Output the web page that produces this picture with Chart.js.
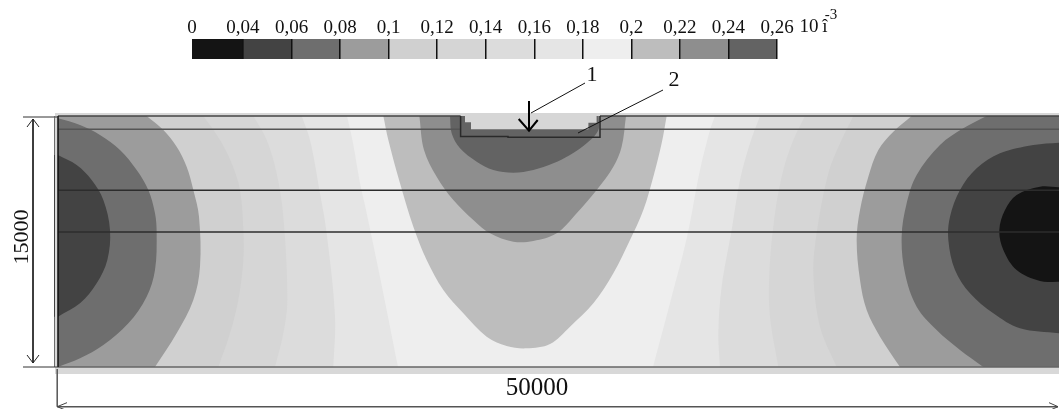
<!DOCTYPE html>
<html>
<head>
<meta charset="utf-8">
<title>Contour map</title>
<script src="https://cdn.jsdelivr.net/npm/chart.js@4"></script>
<style>
  html, body { margin: 0; padding: 0; background: #fff; overflow: hidden; }
  #field-chart { position: absolute; left: 0; top: 0; }
  #scale-chart { position: absolute; left: 150px; top: 0; }
</style>
</head>
<body>
<canvas id="field-chart" width="1059" height="409"></canvas>
<canvas id="scale-chart" width="680" height="59"></canvas>
<script>
// Colour scale
const legendLabels = ['0', '0,04', '0,06', '0,08', '0,1', '0,12', '0,14', '0,16', '0,18', '0,2', '0,22', '0,24', '0,26'];
const legendLevels = [0.019, 0.04, 0.06, 0.08, 0.1, 0.12, 0.14, 0.16, 0.18, 0.2, 0.22, 0.24, 0.26];
const legendGreys = ['#141414', '#434343', '#6e6e6e', '#9c9c9c', '#d0d0d0', '#d5d5d5', '#dcdcdc', '#e5e5e5', '#eeeeee', '#bdbdbd', '#8e8e8e', '#636363'];

// Contours on the left side, [x, depth]
const left04 = [[0,12720],[933,12120],[1683,11220],[2267,10020],[2600,8220],[2467,6420],[1933,5020],[1100,3820],[0,3020]];
const left06 = [[0,14920],[1100,14520],[2100,13920],[3100,13020],[3933,11820],[4517,10620],[4850,9220],[4933,8020],[4850,5820],[4433,4220],[3517,2620],[2267,1320],[1100,520],[0,0]];
const left08 = [[4433,15060],[5267,14220],[5933,13220],[6433,12020],[6767,10620],[7050,9020],[7100,6020],[6767,4020],[5933,2020],[4850,0]];
const left10 = [[7267,15060],[8100,13620],[8683,12220],[9100,10620],[9267,8220],[9267,6420],[9017,4020],[8600,2020],[8017,0]];
const left12 = [[9767,15060],[10433,13620],[10933,11620],[11267,9020],[11467,4020],[11267,2020],[10850,0]];
const left14 = [[12183,15060],[12600,13620],[13100,10420],[13433,8020],[13850,3020],[13767,0]];
const left16 = [[14450,15060],[14750,13440],[15100,11040],[15400,9420],[16100,5400],[17000,0]];

// Contours on the right side
const right16 = [[32850,15060],[32600,14220],[32100,11820],[31450,7800],[30600,3840],[29750,0]];
const right14 = [[35100,15060],[34600,13420],[34100,11220],[33683,8220],[33183,4820],[33017,2020],[33100,0]];
const right12 = [[37350,15060],[36767,13620],[36267,11820],[35850,9220],[35567,5620],[35600,3020],[36017,0]];
const right10 = [[39767,15060],[39100,13420],[38517,11620],[37933,8020],[37767,5620],[38100,2420],[38933,0]];
const right08 = [[42683,15060],[41767,14120],[41017,13020],[40517,11420],[40100,9420],[39933,7620],[40100,5220],[40433,3420],[41100,1820],[42100,0]];
const right06 = [[46433,15060],[45267,14320],[44100,13320],[42933,11520],[42433,9820],[42183,7820],[42350,5620],[42933,3620],[43933,2220],[45100,1020],[46267,0]];
const right04 = [[50050,13460],[48767,13320],[47100,12820],[45933,11920],[45100,10620],[44600,9020],[44517,7620],[44850,5820],[45600,4420],[46767,3220],[48100,2320],[50050,2020]];
const right02 = [[50050,10780],[49100,10820],[47933,10320],[47350,9420],[47067,8220],[47267,7020],[47933,5820],[49100,5160],[50050,5120]];

// Contours under the groove
const centre20 = [[16267,15060],[16517,13620],[17100,11020],[17767,8420],[18433,6420],[19267,4620],[20267,3220],[21433,1820],[22433,1260],[23433,1120],[24600,1380],[25600,2420],[26767,3820],[27767,5620],[28600,7620],[29267,9420],[29767,11420],[30183,13420],[30433,15060]];
const centre22 = [[18067,15060],[18300,13020],[18933,11420],[19767,10020],[20767,8820],[21600,8020],[22767,7520],[23767,7560],[24933,8020],[25933,9220],[26933,10620],[27767,12020],[28183,13220],[28400,15060]];
const centre24 = [[19600,15060],[19683,14020],[20100,13120],[20933,12320],[21767,11820],[22767,11660],[23767,11820],[24767,12220],[25600,12720],[26433,13420],[27017,14220],[27017,15060]];
const grooveCut = [[20350,15240],[20350,14680],[20650,14680],[20650,14260],[26520,14260],[26520,14660],[26930,14660],[26930,15240]];
const grooveEdge = [[20130,15060],[20130,13830],[22500,13830],[22500,13790],[27100,13790],[27100,15060]];

// Layer boundaries, depth of each line
const layerDepths = [10600, 8100, 0];
const topDepth = 15060;
const coverDepth = 14260;

const toPoints = pts => pts.map(p => ({ x: p[0], y: p[1] }));

let drawOrder = 1000;
const layers = [];

function addArea(pts, color, tension = 0.35) {
  layers.push({
    data: toPoints(pts),
    showLine: true,
    fill: 'shape',
    backgroundColor: color,
    borderColor: color,
    borderWidth: 0,
    pointRadius: 0,
    tension,
    order: drawOrder--
  });
}

function addLine(pts, color = '#2c2c2c', width = 1.5) {
  layers.push({
    data: toPoints(pts),
    showLine: true,
    fill: false,
    borderColor: color,
    borderWidth: width,
    pointRadius: 0,
    tension: 0,
    order: drawOrder--
  });
}

// close a contour against the side wall, points doubled so the corners stay sharp
function toWall(curve, wall) {
  const first = curve[0];
  const last = curve[curve.length - 1];
  return [first].concat(curve, [last, [wall, last[1]], [wall, last[1]], [wall, first[1]], [wall, first[1]], first]);
}

// Field
addArea([[-200,15060],[51000,15060],[51000,0],[-200,0]], '#eeeeee', 0);
addArea(toWall(left16, -200), '#e5e5e5');
addArea(toWall(left14, -200), '#dcdcdc');
addArea(toWall(left12, -200), '#d6d6d6');
addArea(toWall(left10, -200), '#d0d0d0');
addArea(toWall(left08, -200), '#9c9c9c');
addArea(toWall(left06, -200), '#6e6e6e');
addArea(toWall(left04, -200), '#434343');
addArea(toWall(right16, 51000), '#e5e5e5');
addArea(toWall(right14, 51000), '#dcdcdc');
addArea(toWall(right12, 51000), '#d6d6d6');
addArea(toWall(right10, 51000), '#d0d0d0');
addArea(toWall(right08, 51000), '#9c9c9c');
addArea(toWall(right06, 51000), '#6e6e6e');
addArea(toWall(right04, 51000), '#434343');
addArea(toWall(right02, 51000), '#141414');
addArea(centre20, '#bdbdbd');
addArea(centre22, '#8e8e8e');
addArea(centre24, '#636363');

// Light margin round the field
addArea([[-150,15240],[51000,15240],[51000,15060],[-150,15060]], '#d8d8d8', 0);
addArea([[-150,0],[51000,0],[51000,-420],[-150,-420]], '#d8d8d8', 0);
addArea([[-150,15240],[0,15240],[0,-420],[-150,-420]], '#d8d8d8', 0);
addArea(grooveCut, '#d6d6d6', 0);

// Layers
layerDepths.forEach(d => addLine([[0, d], [50050, d]], d === 0 ? '#666666' : '#2c2c2c'));
addLine([[0, topDepth], [20130, topDepth]], '#444444');
addLine([[27100, topDepth], [50050, topDepth]], '#444444');
addLine([[0, coverDepth], [20130, coverDepth]], '#555555');
addLine([[27100, coverDepth], [50050, coverDepth]], '#555555');
addLine(grooveEdge, '#2a2a2a');
addLine([[0, 15060], [0, 0]], '#111111', 1.5);

// Dimensions
addLine([[-1750, 15000], [0, 15000]], '#333333', 1);
addLine([[-1750, 0], [0, 0]], '#333333', 1);
addLine([[-1250, 14880], [-1250, 240]], '#222222', 1);
addLine([[-1550, 14400], [-1250, 14880], [-950, 14400]], '#222222', 1);
addLine([[-1550, 720], [-1250, 240], [-950, 720]], '#222222', 1);
addLine([[-40, -120], [-40, -2380]], '#555555', 1.5);
addLine([[-40, -2380], [50000, -2380]], '#555555', 1.5);
addLine([[450, -2140], [-40, -2380], [450, -2620]], '#444444', 1);
addLine([[49550, -2140], [50000, -2380], [49550, -2620]], '#444444', 1);

// Pointers 1 and 2
addLine([[23550, 15960], [23550, 14180]], '#000000', 2);
addLine([[23035, 14880], [23550, 14180], [23985, 14820]], '#000000', 2);
addLine([[26350, 17040], [23650, 15240]], '#111111', 1);
addLine([[30250, 16620], [26000, 14040]], '#111111', 1);

// Text notes, drawn in chart coordinates
const notes = [
  { text: '1', x: 26700, y: 17520, size: 22 },
  { text: '2', x: 30800, y: 17220, size: 22 },
  { text: '50000', x: 23950, y: -1260, size: 25 },
  { text: '15000', x: -1800, y: 7800, size: 22, rotate: -Math.PI / 2 },
  { text: '10', x: 37550, y: 20400, size: 19 },
  { text: 'î', x: 38350, y: 20400, size: 19 },
  { text: '-3', x: 38650, y: 21120, size: 15 }
];

const notesPlugin = {
  id: 'notes',
  afterDatasetsDraw(chart) {
    const { ctx, scales } = chart;
    notes.forEach(n => {
      ctx.save();
      ctx.translate(scales.x.getPixelForValue(n.x), scales.y.getPixelForValue(n.y));
      if (n.rotate) ctx.rotate(n.rotate);
      ctx.font = `${n.size}px "Liberation Serif"`;
      ctx.fillStyle = '#111111';
      ctx.textAlign = 'center';
      ctx.textBaseline = 'middle';
      ctx.fillText(n.text, 0, 0);
      ctx.restore();
    });
  }
};

new Chart(document.getElementById('field-chart'), {
  type: 'scatter',
  data: { datasets: layers },
  options: {
    responsive: false,
    animation: false,
    layout: { padding: 0 },
    plugins: { legend: { display: false }, tooltip: { enabled: false } },
    scales: {
      x: { type: 'linear', display: false, min: -2900, max: 50050 },
      y: { type: 'linear', display: false, min: -2520, max: 22020 }
    }
  },
  plugins: [notesPlugin]
});

// Colour bar on its own axis
new Chart(document.getElementById('scale-chart'), {
  type: 'bar',
  data: {
    labels: [''],
    datasets: legendGreys.map((grey, i) => ({
      data: [[legendLevels[i], legendLevels[i + 1]]],
      backgroundColor: grey,
      borderWidth: 0,
      grouped: false,
      barPercentage: 1,
      categoryPercentage: 1
    }))
  },
  options: {
    indexAxis: 'y',
    responsive: false,
    animation: false,
    layout: { padding: { left: 42, right: 53, top: 19, bottom: 0 } },
    plugins: { legend: { display: false }, tooltip: { enabled: false } },
    scales: {
      x: {
        type: 'linear',
        position: 'top',
        min: legendLevels[0],
        max: legendLevels[legendLevels.length - 1],
        afterBuildTicks: scale => { scale.ticks = legendLevels.map(v => ({ value: v })); },
        border: { display: false },
        grid: {
          z: 1,
          drawTicks: false,
          lineWidth: 1.5,
          color: ctx => (ctx.index === 0 ? 'rgba(0,0,0,0)' : '#111111')
        },
        ticks: {
          autoSkip: false,
          maxRotation: 0,
          padding: 0,
          color: '#111111',
          font: { family: '"Liberation Serif"', size: 19 },
          callback: (value, index) => legendLabels[index]
        }
      },
      y: { display: false }
    }
  }
});
</script>
</body>
</html>
